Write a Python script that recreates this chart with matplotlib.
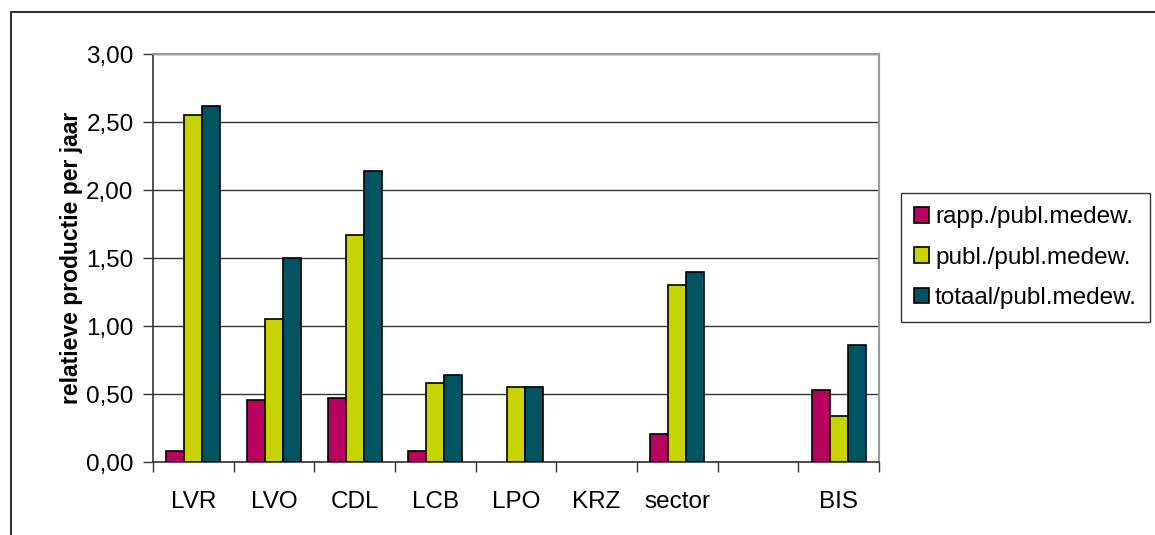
import numpy as np
import matplotlib
matplotlib.use("Agg")
import matplotlib.pyplot as plt
from matplotlib.patches import Rectangle

plt.rcParams['font.family'] = ['Liberation Sans', 'DejaVu Sans']

categories = ["LVR", "LVO", "CDL", "LCB", "LPO", "KRZ", "sector", "", "BIS"]
series_names = ["rapp./publ.medew.", "publ./publ.medew.", "totaal/publ.medew."]
rapp = [0.08, 0.46, 0.47, 0.08, np.nan, np.nan, 0.21, np.nan, 0.53]
publ = [2.55, 1.05, 1.67, 0.58, 0.55, np.nan, 1.30, np.nan, 0.34]
totaal = [2.62, 1.50, 2.14, 0.64, 0.55, np.nan, 1.40, np.nan, 0.86]
colors = ["#B8005E", "#C8D400", "#005462"]
y_ticks = [0.0, 0.5, 1.0, 1.5, 2.0, 2.5, 3.0]

W, H = 1155, 535
fig = plt.figure(figsize=(W / 100, H / 100), dpi=100)
ax = fig.add_axes([153 / W, 1 - 462.3 / H, (879 - 153) / W, (462.3 - 54) / H])

x = np.arange(len(categories))
bw = 0.223
for i, (vals, c, name) in enumerate(zip([rapp, publ, totaal], colors, series_names)):
    ax.bar(x + (i - 1) * bw, vals, width=bw, color=c, edgecolor="black",
           linewidth=1.2, label=name, zorder=3)

ax.set_xlim(-0.5, len(categories) - 0.5)
ax.set_ylim(0, 3.0)
ax.set_yticks(y_ticks)
ax.set_yticklabels([f"{v:.2f}".replace(".", ",") for v in y_ticks], fontsize=17.5)
ax.yaxis.grid(True, color="#333333", linewidth=1.0, zorder=0)
ax.set_axisbelow(True)

ax.set_xticks(x)
ax.set_xticklabels(categories, fontsize=17.5)
ax.set_xticks(np.arange(-0.5, len(categories), 1.0), minor=True)
ax.tick_params(axis="x", which="major", length=0, pad=21)
ax.tick_params(axis="x", which="minor", length=7, width=1.0, color="#333333", direction="out")
ax.tick_params(axis="y", which="major", length=7, width=1.0, color="#333333", direction="out", pad=7)

for s in ["left", "bottom"]:
    ax.spines[s].set_color("#333333")
    ax.spines[s].set_linewidth(1.2)
for s in ["top", "right"]:
    ax.spines[s].set_color("#999999")
    ax.spines[s].set_linewidth(1.5)

ax.set_ylabel("relatieve productie per jaar", fontsize=16.5, fontweight="bold", labelpad=2)

leg = fig.legend(loc="upper left", bbox_to_anchor=(901 / W, 1 - 193 / H),
                 bbox_transform=fig.transFigure, fontsize=17.5,
                 frameon=True, fancybox=False, edgecolor="black",
                 handlelength=0.6, handleheight=0.6, handletextpad=0.25,
                 labelspacing=0.75, borderpad=0.55, borderaxespad=0)
leg.get_frame().set_linewidth(1.0)

# outer chart border
fig.patches.append(Rectangle((11 / W, -0.1), 1.2, 1 - 12 / H + 0.1,
                             transform=fig.transFigure, fill=False,
                             edgecolor="#333333", linewidth=1.5))

fig.savefig("out.png", dpi=100)
